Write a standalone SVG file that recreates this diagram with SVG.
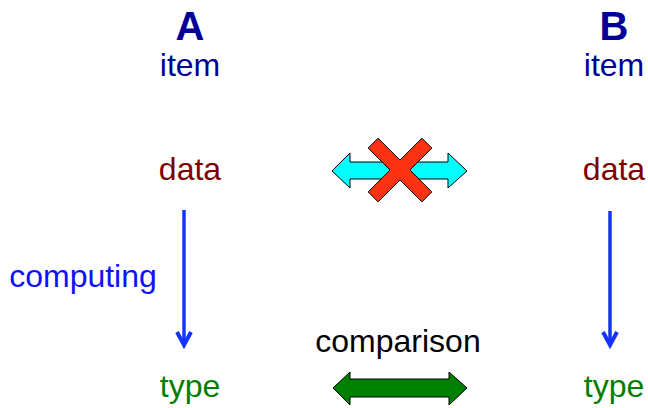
<svg xmlns="http://www.w3.org/2000/svg" width="648" height="408" viewBox="0 0 648 408">
<style>
text{font-family:"Liberation Sans",Arial,sans-serif;font-size:32px;text-anchor:middle}
.hd{font-weight:bold;font-size:40px;fill:#000099}
.item{fill:#000099}
.data{fill:#800000}
.type{fill:#008000}
.comp{fill:#1010ff}
.blk{fill:#000}
.flow{stroke:#1433ff;stroke-width:3.5;fill:none}
.ah{stroke:#1433ff;stroke-width:4;fill:none;stroke-linejoin:miter}
</style>
<rect width="648" height="408" fill="#fff"/>
<g id="nodeA">
<text class="hd" x="190" y="40">A</text>
<text class="item" x="190" y="76">item</text>
<text class="data" x="190" y="180">data</text>
<text class="type" x="190" y="397">type</text>
</g>
<g id="nodeB">
<text class="hd" x="614" y="40">B</text>
<text class="item" x="614" y="76">item</text>
<text class="data" x="614" y="180">data</text>
<text class="type" x="614" y="397">type</text>
</g>
<g id="connectors">
<line class="flow" x1="184" y1="210" x2="184" y2="345"/>
<polyline class="ah" points="177,332 184,345 191,332"/>
<line class="flow" x1="610" y1="211" x2="610" y2="345"/>
<polyline class="ah" points="603,332 610,345 617,332"/>
<text class="comp" x="83" y="287">computing</text>
<polygon fill="#00ffff" stroke="#000" stroke-width="1" points="332,171 350,153 350,162 448,162 448,153 467,171 448,188 448,179 350,179 350,188"/>
<polygon fill="#ff3311" stroke="#000" stroke-width="1" transform="translate(400,170)" points="21.92,-31.82 31.82,-21.92 9.9,0 31.82,21.92 21.92,31.82 0,9.9 -21.92,31.82 -31.82,21.92 -9.9,0 -31.82,-21.92 -21.92,-31.82 0,-9.9"/>
<text class="blk" x="398" y="352">comparison</text>
<polygon fill="#008000" stroke="#000" stroke-width="1" points="333,388 350,372 350,379 449,379 449,372 467,388 449,405 449,397 350,397 350,405"/>
</g>
</svg>
